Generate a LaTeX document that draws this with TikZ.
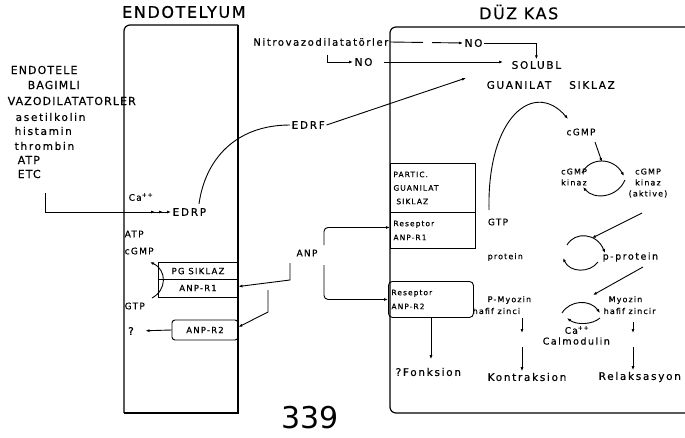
\documentclass[tikz,border=0pt]{standalone}
\usepackage{fontspec}
\setmainfont{DejaVu Sans}
\newfontfamily\capsfont[LetterSpace=10,FakeBold=0.5]{DejaVu Sans}
\newfontfamily\smallfont[LetterSpace=14,FakeBold=0.5]{DejaVu Sans}
\newfontfamily\wordfont[LetterSpace=16,FakeBold=0.5]{DejaVu Sans}
\usetikzlibrary{arrows.meta,positioning}
\tikzset{
  wall/.style={line width=1.2pt, rounded corners=6pt},
  link/.style={line width=0.9pt},
  txt/.style={font=\wordfont\fontsize{10.5}{11}\selectfont, inner sep=1.5pt},
  bigtxt/.style={font=\capsfont\fontsize{11}{12}\selectfont, inner sep=1.5pt},
  smalltxt/.style={font=\smallfont\fontsize{9}{10}\selectfont, inner sep=1.5pt},
  title/.style={font=\capsfont\fontsize{16}{17}\selectfont, inner sep=0pt},
  pgbox/.style={draw, line width=0.9pt, align=center,
    font=\smallfont\fontsize{8.5}{17}\selectfont, inner sep=0pt},
  kbox/.style={draw, line width=0.9pt, align=left, text width=79pt,
    inner xsep=3pt, inner ysep=0pt, font=\smallfont\fontsize{7.5}{14}\selectfont}
}

\begin{document}
\begin{tikzpicture}[>={Latex[length=4pt,width=3pt]}, x=1pt, y=-1pt]
  \useasboundingbox (0,0) rectangle (685,437);
  \fill[white] (0,0) rectangle (685,437);

  % titles and walls
  \node[title, anchor=west] (endotitle) at (122,12) {ENDOTELYUM};
  \node[title, anchor=west] (kastitle) at (479,12) {DÜZ KAS};
  \draw[wall] (124,413) -- (124,25) -- (238,25);
  \draw[wall, sharp corners] (238,25) -- (238,413) -- (124,413);
  \draw[wall] (685,413) -- (390,413) -- (390,27) -- (685,27);

  % endothelium dependent vasodilators
  \node[bigtxt, anchor=west] (v1) at (9,70) {ENDOTELE};
  \node[bigtxt, anchor=west] (v2) at (26,85) {BAGIMLI};
  \node[bigtxt, anchor=west] (v3) at (6,101) {VAZODILATATORLER};
  \node[txt, anchor=west] (v4) at (14,117) {asetilkolin};
  \node[txt, anchor=west] (v5) at (13,131) {histamin};
  \node[txt, anchor=west] (v6) at (13,146) {thrombin};
  \node[bigtxt, anchor=west] (v7) at (16,160) {ATP};
  \node[bigtxt, anchor=west] (v8) at (16,174) {ETC};

  \coordinate (vtick) at (45,193);
  \node[smalltxt, anchor=west] (ca1) at (127,197) {Ca\textsuperscript{++}};
  \node[txt, anchor=west] (edrp) at (171,212) {EDRP};
  \draw[link, -{Latex[length=4pt,width=3pt,sep=4pt]Latex[length=4pt,width=3pt,sep=4pt]Latex[length=4pt,width=3pt]}]
    (vtick) -- (45,212) -- (edrp.west);

  % EDRF
  \node[txt, anchor=west] (edrf) at (290,125) {EDRF};
  \coordinate (edrfend) at (466,78);
  \draw[link] (199,204) .. controls (205,160) and (235,125) .. (edrf.west);
  \draw[link, ->] (edrf.east) -- (edrfend);

  % nitrovasodilators and NO
  \node[txt, font=\wordfont\fontsize{10}{10}\selectfont, anchor=east] (nitro) at (390,42) {Nitrovazodilatatörler};
  \node[txt, anchor=west] (no1) at (463,43) {NO};
  \node[txt, anchor=west] (solubl) at (510,65) {SOLUBL};
  \node[txt, anchor=west] (guan) at (485,85) {GUANILAT\hspace{18pt}SIKLAZ};
  \draw[link, ->, dash pattern=on 33pt off 9pt on 90pt] (nitro.east) -- (no1.west);
  \draw[link, ->] (no1.east) -| (solubl.north);

  \coordinate (notick) at (327,55);
  \node[txt, anchor=west] (no2) at (353,62) {NO};
  \draw[link, ->] (notick) -- (327,62) -- (no2.west);
  \draw[link, ->, shorten >=7pt] ([xshift=10pt]no2.east) -- (solubl.west |- no2.east);

  % endothelium inside
  \node[smalltxt, anchor=west] (atp1) at (123,234) {ATP};
  \node[smalltxt, anchor=west] (cgmp0) at (123,251) {cGMP};
  \node[smalltxt, anchor=west] (gtp1) at (123,306) {GTP};
  \node[pgbox, minimum width=80pt, minimum height=35pt] (pg) at (198,279.5) {PG SIKLAZ\\ANP-R1};
  \draw[line width=0.9pt] (pg.west) -- (pg.east);
  \draw[link, ->] (152,298) .. controls (167,290) and (167,270) .. (150,262);
  \node[pgbox, minimum width=66pt, minimum height=20pt, rounded corners=3pt] (r2e) at (205,330) {ANP-R2};
  \node[txt] (qmark) at (131,331) {?};
  \draw[link, ->, shorten >=10pt] (r2e.west) -- (qmark.east);

  % ANP
  \node[smalltxt] (anp) at (307,253) {ANP};
  \coordinate (a1) at (290,263);
  \coordinate (a2) at (268,290);
  \coordinate (a3) at (324,245);
  \coordinate (a4) at (324,265);

  % smooth muscle receptors
  \node[kbox, anchor=north west, minimum height=49pt, font=\smallfont\fontsize{7.5}{13.5}\selectfont] (partic) at (390,163) {PARTIC.\\GUANILAT\\\hspace*{3pt}SIKLAZ};
  \node[kbox, anchor=north west, minimum height=36pt] (r1) at (390,212) {Reseptor\\ANP-R1};
  \node[kbox, anchor=north west, minimum height=36pt, rounded corners=4pt] (r2) at (388,281) {Reseptor\\ANP-R2};
  \node[txt, anchor=west] (fonk) at (394,372) {?Fonksion};

  \draw[link, ->] (a1) -- (290,280) -- ([yshift=-7pt]pg.east);
  \draw[link, ->] (a2) -- (268,312) -- ([yshift=3pt]r2e.east);
  \draw[link, ->, rounded corners=4pt] (a3) |- ([yshift=3pt]r1.west);
  \draw[link, ->, rounded corners=4pt] (a4) |- (r2.west);
  \draw[link, ->, shorten >=7pt] (r2.south) -- (r2.south |- fonk.north);

  % cGMP pathway
  \node[smalltxt] (gtp2) at (498,222) {GTP};
  \node[smalltxt] (cgmp1) at (581,132) {cGMP};
  \coordinate (arcend) at (568,119);
  \draw[link, ->] (489,210) .. controls (487,115) and (535,80) .. (arcend);
  \node[smalltxt, align=center, font=\smallfont\fontsize{8}{11}\selectfont] (kin1) at (574,177) {cGMP\\kinaz};
  \node[smalltxt, align=center, font=\smallfont\fontsize{8}{11}\selectfont] (kin2) at (648,183) {cGMP\\kinaz\\(aktive)};
  \draw[link, ->] (595,142) -- (602,162);
  \draw[link, ->] (582,173) .. controls (590,157) and (613,157) .. (624,176);
  \draw[link, ->] (625,180) .. controls (617,198) and (594,200) .. (583,187);
  \draw[link, ->] (642,213) -- (592,238);

  \node[smalltxt, anchor=west, font=\smallfont\fontsize{8}{9}\selectfont] (prot) at (486,257) {protein};
  \node[txt, anchor=west, font=\wordfont\fontsize{9.5}{10}\selectfont] (pprot) at (601,257) {p-protein};
  \draw[link, ->] (567,245) .. controls (575,231) and (597,233) .. (605,253);
  \draw[link, ->] (598,262) .. controls (590,273) and (570,273) .. (563,258);
  \draw[link, ->] (643,267) -- (593,295);

  % myosin light chain
  \node[smalltxt, anchor=west, font=\smallfont\fontsize{8}{9}\selectfont] (pmyo) at (486,300) {P-Myozin};
  \node[smalltxt, anchor=west, font=\smallfont\fontsize{8}{9}\selectfont] (pzin) at (471,311) {hafif zinci};
  \node[smalltxt, anchor=west, font=\smallfont\fontsize{8}{9}\selectfont] (myo) at (607,300) {Myozin};
  \node[smalltxt, anchor=west, font=\smallfont\fontsize{8}{9}\selectfont] (zin) at (602,311) {hafif zincir};
  \draw[link, ->] (562,313) .. controls (570,300) and (590,299) .. (600,313);
  \draw[link, <-] (567,318) .. controls (576,325) and (592,325) .. (600,318);
  \node[smalltxt] (ca2) at (577,330) {Ca\textsuperscript{++}};
  \node[txt, anchor=west, font=\wordfont\fontsize{9.5}{10}\selectfont] (calm) at (541,341) {Calmodulin};
  \node[txt, anchor=west] (kontr) at (486,377) {Kontraksion};
  \node[txt, anchor=west] (relak) at (597,377) {Relaksasyon};
  \draw[link, ->] (522,318) -- (522,333);
  \draw[link, ->] (522,347) -- (kontr.north -| 522,0);
  \draw[link, ->] (633,322) -- (633,333);
  \draw[link, ->] (633,347) -- (relak.north -| 633,0);

  \node[font=\fontsize{30}{30}\selectfont, inner sep=0pt] (page) at (310,418) {339};
\end{tikzpicture}
\end{document}
